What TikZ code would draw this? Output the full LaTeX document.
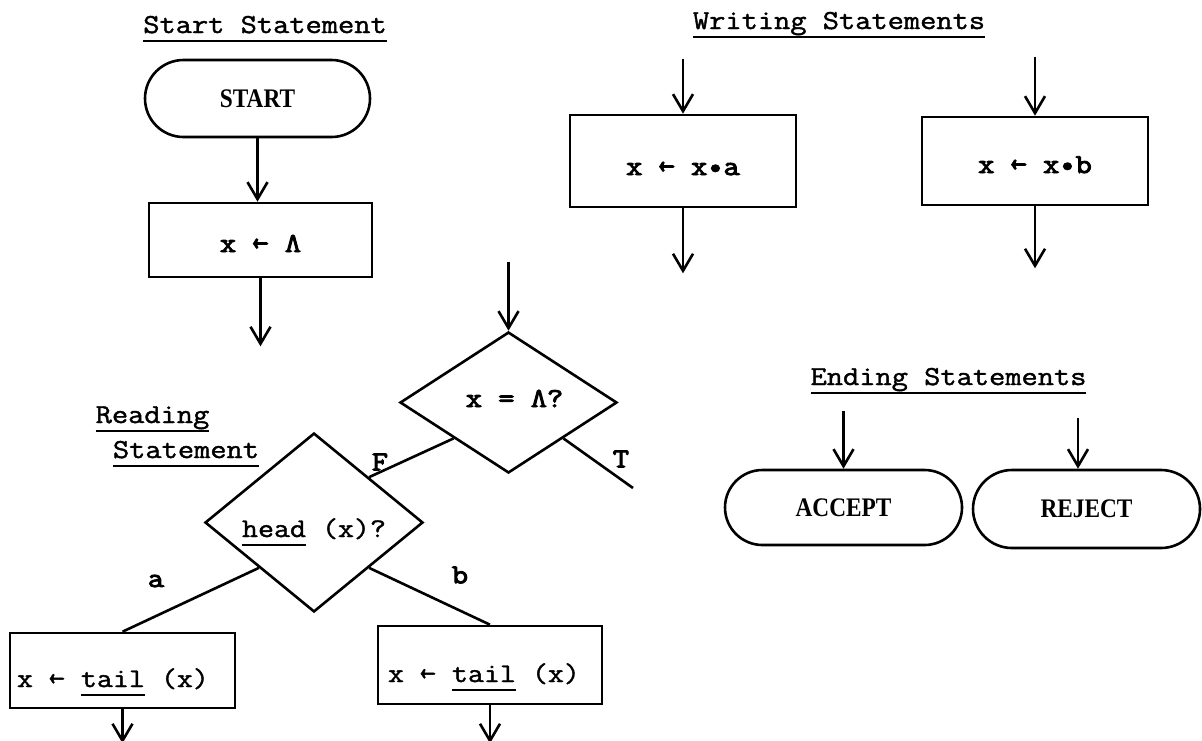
\documentclass[tikz,border=0pt]{standalone}
\usepackage{fontspec}
\setmainfont{Liberation Serif}
% slab-serif typewriter faces (medium and heavy), and a condensed bold serif for terminals
\newfontfamily\twfont[FakeStretch=1.15,FakeBold=1.5]{Latin Modern Mono}
\newfontfamily\twbold[FakeStretch=1.15,FakeBold=3.5]{Latin Modern Mono}
\newfontfamily\termfont[FakeStretch=0.87]{Liberation Serif Bold}
\usetikzlibrary{shapes.geometric,shapes.misc,arrows.meta}
% underline drawn at a fixed depth below the baseline
\newsavebox\ulbox
\newcommand\ulx[1]{\sbox\ulbox{#1}\rlap{\rule[-4.5pt]{\wd\ulbox}{1pt}}\usebox\ulbox}
\tikzset{
  flow/.style={line width=1.3pt},
  arr/.style={flow,-{Straight Barb[length=8.5pt,width=10pt]}},
  title/.style={font=\fontsize{13.7}{16}\selectfont\twfont,anchor=base,inner sep=0pt},
  stmt/.style={draw,flow,rectangle,inner sep=0pt,font=\fontsize{13.7}{16}\selectfont\twbold},
  term/.style={draw,flow,rounded rectangle,inner sep=0pt,font=\fontsize{13.4}{15}\selectfont\termfont},
  test/.style={draw,flow,diamond,inner sep=0pt,minimum width=108.5pt,minimum height=70.5pt},
  lbl/.style={inner sep=0pt,font=\fontsize{13.7}{16}\selectfont\twbold}
}
\begin{document}
\begin{tikzpicture}[x=0.5pt,y=-0.5pt]
\useasboundingbox[fill=white] (0,0) rectangle (1202,740);

% section titles
\node[title] (tStart) at (265,33) {\ulx{Start Statement}};
\node[title] (tWrite) at (839,29) {\ulx{Writing Statements}};
\node[title] (tEnd) at (948.5,385) {\ulx{Ending Statements}};
\node[title] (tRead1) at (152.5,423) {\ulx{Reading}};
\node[title] (tRead2) at (186,458) {\ulx{Statement}};

% start statement
\node[term,minimum width=112.5pt,minimum height=38.5pt] (start) at (257.5,98.5) {START};
\node[stmt,minimum width=111.5pt,text height=24.5pt,text depth=12.5pt] (init) at (260.5,240) {x ← Λ};
\draw[arr] (start.south) -- (start.south |- init.north);
\path (init.south) ++(0,68) coordinate (initOut);
\draw[arr] (init.south) -- (initOut);

% writing statements
\node[stmt,minimum width=113pt,text height=30pt,text depth=16pt] (wa) at (683,161) {x ← x•a};
\node[stmt,minimum width=113pt,text height=28pt,text depth=16pt] (wb) at (1035,161) {x ← x•b};
\path (wa.north) ++(0,-55) coordinate (waIn);
\path (wa.south) ++(0,65) coordinate (waOut);
\path (wb.north) ++(0,-59) coordinate (wbIn);
\path (wb.south) ++(0,62) coordinate (wbOut);
\draw[arr] (waIn) -- (wa.north);
\draw[arr] (wa.south) -- (waOut);
\draw[arr] (wbIn) -- (wb.north);
\draw[arr] (wb.south) -- (wbOut);

% reading statement
\node[test,font=\fontsize{13.7}{16}\selectfont\twbold,text height=8pt,text depth=3.5pt] (d1) at (508.5,402.5) {\hspace*{6pt}x = Λ?};
\path (d1.north) ++(0,-69) coordinate (d1In);
\draw[arr] (d1In) -- (d1.north);
\node[test,minimum width=109pt,font=\fontsize{13.5}{16}\selectfont\twfont,text height=16pt,text depth=1.5pt] (d2) at (314,522.5) {\ulx{head} (x)?};
\coordinate (tFree) at (633,488);
\draw[flow] (d1.south west) -- (d2.north east);
\draw[flow] (d1.south east) -- (tFree);
\node[lbl] (lF) at (380,462) {F};
\node[lbl] (lT) at (621,459) {T};

\node[stmt,font=\fontsize{13.5}{16}\selectfont\twfont,inner xsep=3.5pt,text height=27pt,text depth=10.5pt] (tailA) at (122.5,670.5) {\makebox[105.5pt][l]{x ← \ulx{tail} (x)}};
\node[stmt,font=\fontsize{13.5}{16}\selectfont\twfont,inner xsep=5pt,text height=28pt,text depth=11pt] (tailB) at (490,665) {\makebox[102pt][l]{x ← \ulx{tail} (x)}};
\draw[flow] (d2.south west) -- (tailA.north);
\draw[flow] (d2.south east) -- (tailB.north);
\node[lbl] (la) at (156,581) {a};
\node[lbl] (lb) at (460,575) {b};
\path (tailA.south) ++(0,34) coordinate (tailAOut);
\path (tailB.south) ++(0,38) coordinate (tailBOut);
\draw[arr] (tailA.south) -- (tailAOut);
\draw[arr] (tailB.south) -- (tailBOut);

% ending statements
\node[term,minimum width=118.5pt,minimum height=37.5pt] (accept) at (843.5,507.5) {ACCEPT};
\node[term,minimum width=113.5pt,minimum height=39pt] (reject) at (1086.5,509) {REJECT};
\path (accept.north) ++(0,-58) coordinate (acIn);
\coordinate (rjIn) at (1078,418);
\draw[arr] (acIn) -- (accept.north);
\draw[arr] (rjIn) -- (rjIn |- reject.north);
\end{tikzpicture}
\end{document}
